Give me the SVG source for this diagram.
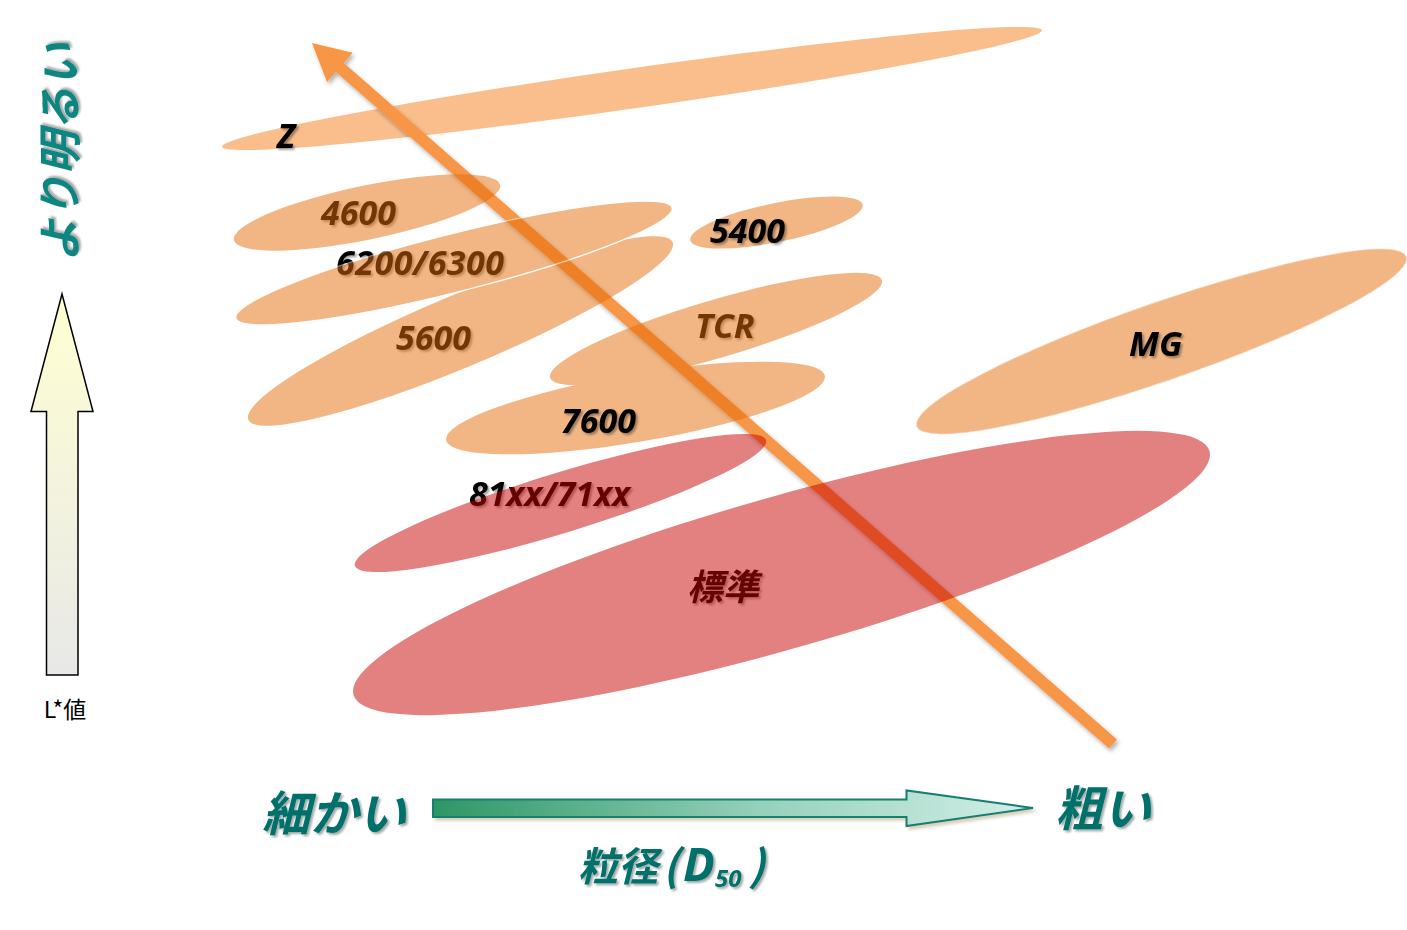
<svg xmlns="http://www.w3.org/2000/svg" width="1407" height="930" viewBox="0 0 1407 930">
<defs>
<style>
.lbl{font-family:"Open Sans","Noto Sans",sans-serif;font-weight:700;font-style:italic;font-size:34px;fill:#000}
.jp{font-family:"Noto Sans CJK JP","Noto Sans",sans-serif;font-weight:700;font-style:italic}
.teal{fill:#06706B}
.orng{fill:#E46C0A}
.red{fill:#C80303}
</style>
<filter id="ts" x="-20%" y="-20%" width="140%" height="140%"><feDropShadow dx="2" dy="2" stdDeviation="1.2" flood-color="#000" flood-opacity="0.35"/></filter>
<filter id="as" x="-10%" y="-10%" width="120%" height="120%"><feDropShadow dx="2" dy="3" stdDeviation="2" flood-color="#000" flood-opacity="0.3"/></filter>
<filter id="bs" x="-10%" y="-30%" width="120%" height="160%"><feDropShadow dx="3" dy="3" stdDeviation="1.5" flood-color="#A89A6A" flood-opacity="0.45"/></filter>
<linearGradient id="gv" x1="0" y1="0" x2="0" y2="1"><stop offset="0" stop-color="#FFFFD2"/><stop offset="1" stop-color="#E8E8E8"/></linearGradient>
<linearGradient id="gh" x1="0" y1="0" x2="1" y2="0"><stop offset="0" stop-color="#2E9665"/><stop offset="0.55" stop-color="#96D1BC"/><stop offset="1" stop-color="#D3EEE7"/></linearGradient>
</defs>
<rect width="1407" height="930" fill="#fff"/>

<!-- labels lying beneath the translucent ellipses -->
<g id="labels-under" filter="url(#ts)">
<text id="t4600" class="lbl" x="321" y="225">4600</text>
<text id="t6200" class="lbl" x="336" y="275" textLength="168">6200/6300</text>
<text id="t5600" class="lbl" x="396" y="350">5600</text>
<text id="tTCR" class="lbl" x="695" y="338">TCR</text>
<text id="t81xx" class="lbl" x="469" y="506" textLength="161">81xx/71xx</text>
<text id="tstd" class="jp" x="687" y="600" font-size="36" fill="#000">標準</text>
</g>

<g id="nZ"><ellipse cx="632" cy="88.5" rx="414" ry="20" transform="rotate(-8.1 632 88.5)" fill="#F79646" opacity="0.62"/></g>

<g id="connectors">
<path id="trend" filter="url(#as)" fill="#F79646" d="M312,43 L352.7,52.7 L343.9,62.9 L1117,739.5 L1109,748.5 L335.9,71.9 L327,82.1 Z"/>
</g>

<g id="orange-nodes" opacity="0.5">
<g id="n4600"><ellipse class="orng" cx="367" cy="212.5" rx="136" ry="27" transform="rotate(-11.7 367 212.5)"/></g>
<g id="n5600"><ellipse class="orng" cx="460.5" cy="331" rx="230" ry="36" transform="rotate(-22.7 460.5 331)"/></g>
<g id="n6200"><ellipse class="orng" cx="454" cy="263" rx="225" ry="29" transform="rotate(-14.2 454 263)" stroke="#fff" stroke-width="1.2"/></g>
<g id="n5400"><ellipse class="orng" cx="776.5" cy="222.5" rx="88" ry="19.5" transform="rotate(-11.6 776.5 222.5)"/></g>
<g id="n7600"><ellipse class="orng" cx="635.5" cy="408" rx="192" ry="34" transform="rotate(-9.6 635.5 408)"/></g>
<g id="nTCR"><ellipse class="orng" cx="716" cy="329" rx="173" ry="29" transform="rotate(-16.4 716 329)"/></g>
<g id="nMG"><ellipse class="orng" cx="1161.5" cy="341.5" rx="259" ry="39" transform="rotate(-19.1 1161.5 341.5)"/></g>
</g>

<g id="red-nodes" opacity="0.5">
<g id="n81xx"><ellipse class="red" cx="560.5" cy="503" rx="215" ry="30" transform="rotate(-17 560.5 503)"/></g>
<g id="nstd"><ellipse class="red" cx="781.5" cy="573" rx="445" ry="76" transform="rotate(-15.9 781.5 573)"/></g>
</g>

<g id="labels-over" filter="url(#ts)">
<text id="tZ" class="lbl" x="277" y="148">Z</text>
<text id="t5400" class="lbl" x="710" y="243">5400</text>
<text id="t7600" class="lbl" x="561" y="433">7600</text>
<text id="tMG" class="lbl" x="1129" y="356">MG</text>
</g>

<g id="yaxis">
<path d="M62,294 L93,411.5 L78,411.5 L78,675 L46.5,675 L46.5,411.5 L31,411.5 Z" fill="url(#gv)" stroke="#000" stroke-width="1.5"/>
<text x="65" y="718" text-anchor="middle" font-family="'Noto Sans CJK JP','Noto Sans',sans-serif" font-size="23" fill="#000">L*値</text>
<text class="jp" transform="translate(76,262) rotate(-90)" x="0" y="0" font-size="44" fill="#0E8580" filter="url(#ts)">より明るい</text>
</g>

<g id="xaxis">
<path d="M433,799.5 L906.5,799.5 L906.5,790.5 L1033,808 L906.5,826 L906.5,817 L433,817 Z" fill="url(#gh)" stroke="#127E72" stroke-width="2" filter="url(#bs)"/>
<g filter="url(#ts)">
<text class="jp teal" x="262" y="831" font-size="48">細かい</text>
<text class="jp teal" x="1055" y="826" font-size="48">粗い</text>
<text class="jp teal" x="578" y="881" font-size="40">粒径<tspan x="663" font-size="42">(</tspan><tspan x="683" font-family="'Open Sans','Noto Sans',sans-serif" font-size="47">D</tspan><tspan x="715" font-family="'Open Sans','Noto Sans',sans-serif" font-size="24" dy="6">50</tspan><tspan x="749" font-size="42" dy="-6">)</tspan></text>
</g>
</g>
</svg>
